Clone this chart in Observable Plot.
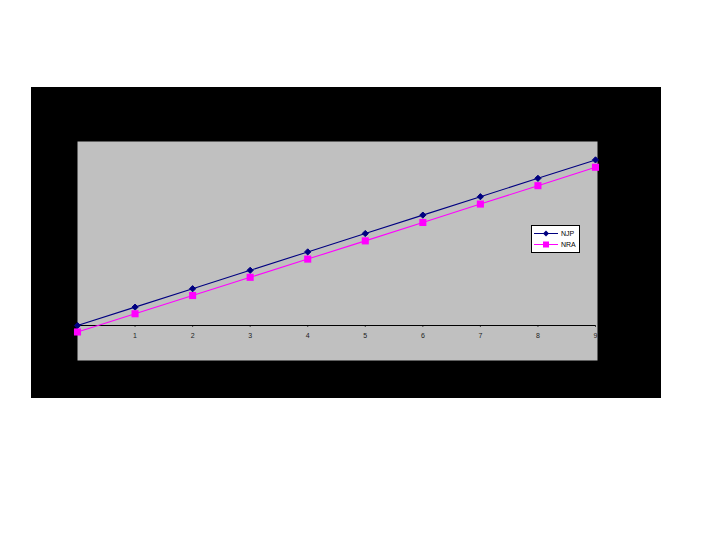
<!DOCTYPE html>
<html>
<head>
<meta charset="utf-8">
<script src="https://cdn.jsdelivr.net/npm/d3@7"></script>
<script src="https://cdn.jsdelivr.net/npm/@observablehq/plot@0.6"></script>
<style>
  body { margin: 0; background: #fff; }
  #wrap { position: relative; width: 720px; height: 540px; background: #fff; overflow: hidden; }
  #outer { position: absolute; left: 31px; top: 87px; width: 630px; height: 311px; background: #000; }
  #chart { position: absolute; left: 0; top: 0; }
  #legend { position: absolute; left: 531px; top: 225px; width: 47px; height: 26px; background: #fff;
            border: 1px solid #000; font-family: Arial, "Liberation Sans", sans-serif; font-size: 7px; color: #000; }
  #legend .row { position: absolute; left: 2px; height: 10px; display: flex; align-items: center; }
  #legend svg { display: block; margin-right: 3px; }
</style>
</head>
<body>
<div id="wrap">
  <div id="outer"></div>
  <div id="chart"></div>
  <div id="legend"></div>
</div>
<script>
const xValues = [0, 1, 2, 3, 4, 5, 6, 7, 8, 9];
const njp = [0, 1, 2, 3, 4, 5, 6, 7, 8, 9];
const nra = [-0.35, 0.64, 1.63, 2.62, 3.61, 4.6, 5.6, 6.6, 7.6, 8.6];
const xTickLabels = [1, 2, 3, 4, 5, 6, 7, 8, 9];
const seriesNames = ["NJP", "NRA"];
const seriesColors = ["#000080", "#ff00ff"];

const njpData = xValues.map((x, i) => ({series: seriesNames[0], x, y: njp[i]}));
const nraData = xValues.map((x, i) => ({series: seriesNames[1], x, y: nra[i]}));

const chart = Plot.plot({
  width: 720,
  height: 540,
  marginLeft: 77,
  marginRight: 125,
  marginTop: 141,
  marginBottom: 180,
  style: {background: "transparent", fontFamily: "Arial, 'Liberation Sans', sans-serif", overflow: "visible"},
  x: {domain: [0, 9], axis: null},
  y: {domain: [-1.9, 10], axis: null},
  marks: [
    Plot.frame({fill: "#c0c0c0", stroke: "none", insetRight: -2}),
    Plot.ruleY([0], {stroke: "#000", strokeWidth: 1.1}),
    Plot.ruleX(xTickLabels, {x: d => d, y1: 0, y2: -0.1, stroke: "#000", strokeWidth: 0.8}),
    Plot.text(xTickLabels, {x: d => d, y: 0, text: d => String(d), dy: 10, fontSize: 7, fill: "#222"}),
    Plot.line(njpData, {x: "x", y: "y", stroke: seriesColors[0], strokeWidth: 1.1}),
    Plot.line(nraData, {x: "x", y: "y", stroke: seriesColors[1], strokeWidth: 1.1}),
    Plot.dot(njpData, {x: "x", y: "y", symbol: "diamond2", fill: seriesColors[0], stroke: seriesColors[0], strokeWidth: 1, r: 2.8}),
    Plot.dot(nraData, {x: "x", y: "y", symbol: "square", fill: seriesColors[1], r: 4})
  ]
});
document.getElementById("chart").appendChild(chart);

const legend = document.getElementById("legend");
seriesNames.forEach((name, i) => {
  const row = document.createElement("div");
  row.className = "row";
  row.style.top = (i === 0 ? 2 : 13) + "px";
  const sym = i === 0
    ? `<path d="M12,1.5 L15,4.5 L12,7.5 L9,4.5 Z" fill="${seriesColors[i]}"/>`
    : `<rect x="9" y="1.5" width="6" height="6" fill="${seriesColors[i]}"/>`;
  row.innerHTML = `<svg width="24" height="9"><line x1="0" y1="4.5" x2="24" y2="4.5" stroke="${seriesColors[i]}" stroke-width="1"/>${sym}</svg><span>${name}</span>`;
  legend.appendChild(row);
});
</script>
</body>
</html>
